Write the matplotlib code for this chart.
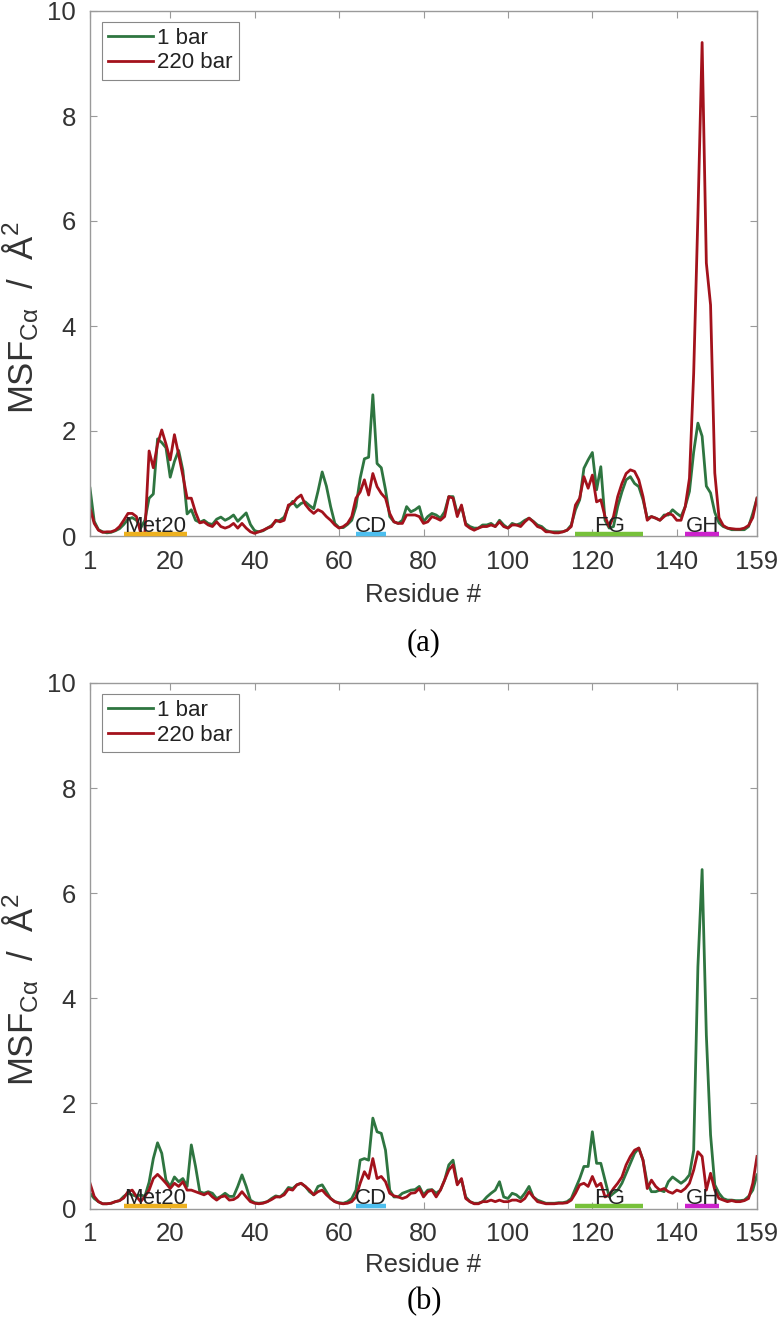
import numpy as np
import matplotlib
matplotlib.use("Agg")
import matplotlib.pyplot as plt

plt.rcParams['font.family'] = ['Liberation Sans', 'DejaVu Sans']
plt.rcParams['mathtext.fontset'] = 'custom'
plt.rcParams['mathtext.rm'] = 'Liberation Sans'
plt.rcParams['mathtext.it'] = 'Liberation Sans:italic'

residues = np.arange(1, 160)

msf_a_1bar = [
    0.91, 0.28, 0.12, 0.08, 0.06, 0.07, 0.10, 0.14, 0.22, 0.32,
    0.35, 0.30, 0.15, 0.30, 0.72, 0.80, 1.85, 1.78, 1.68, 1.12,
    1.42, 1.63, 1.25, 0.42, 0.50, 0.30, 0.26, 0.30, 0.24, 0.22,
    0.32, 0.36, 0.30, 0.34, 0.40, 0.28, 0.36, 0.44, 0.22, 0.10,
    0.08, 0.10, 0.15, 0.20, 0.28, 0.30, 0.36, 0.55, 0.66, 0.55,
    0.62, 0.65, 0.58, 0.52, 0.85, 1.22, 0.95, 0.56, 0.24, 0.16,
    0.16, 0.22, 0.30, 0.56, 1.10, 1.47, 1.50, 2.69, 1.38, 1.30,
    0.88, 0.37, 0.27, 0.24, 0.30, 0.56, 0.46, 0.50, 0.56, 0.27,
    0.37, 0.43, 0.40, 0.34, 0.46, 0.75, 0.75, 0.43, 0.56, 0.24,
    0.18, 0.15, 0.15, 0.21, 0.21, 0.24, 0.18, 0.30, 0.21, 0.15,
    0.24, 0.21, 0.24, 0.30, 0.34, 0.28, 0.21, 0.18, 0.11, 0.08,
    0.08, 0.08, 0.08, 0.11, 0.21, 0.50, 0.69, 1.29, 1.45, 1.59,
    0.88, 1.32, 0.30, 0.15, 0.18, 0.56, 0.84, 1.07, 1.13, 1.00,
    0.94, 0.69, 0.34, 0.37, 0.34, 0.30, 0.40, 0.40, 0.50, 0.43,
    0.37, 0.56, 0.85, 1.60, 2.15, 1.90, 0.95, 0.82, 0.45, 0.25,
    0.18, 0.15, 0.12, 0.12, 0.12, 0.12, 0.18, 0.43, 0.72]

msf_a_220bar = [
    0.53, 0.24, 0.11, 0.07, 0.08, 0.08, 0.11, 0.18, 0.30, 0.43,
    0.43, 0.37, 0.06, 0.05, 1.62, 1.30, 1.75, 2.02, 1.75, 1.45,
    1.93, 1.55, 1.15, 0.72, 0.72, 0.45, 0.25, 0.27, 0.21, 0.18,
    0.27, 0.18, 0.15, 0.18, 0.24, 0.15, 0.24, 0.15, 0.08, 0.05,
    0.08, 0.11, 0.15, 0.18, 0.30, 0.27, 0.30, 0.59, 0.62, 0.72,
    0.78, 0.60, 0.50, 0.43, 0.50, 0.46, 0.37, 0.30, 0.21, 0.15,
    0.18, 0.24, 0.37, 0.72, 0.84, 1.07, 0.78, 1.19, 0.94, 0.81,
    0.72, 0.43, 0.27, 0.24, 0.24, 0.40, 0.40, 0.40, 0.37, 0.24,
    0.27, 0.37, 0.34, 0.30, 0.37, 0.75, 0.72, 0.37, 0.59, 0.21,
    0.15, 0.11, 0.15, 0.18, 0.18, 0.21, 0.18, 0.27, 0.18, 0.15,
    0.21, 0.21, 0.18, 0.27, 0.34, 0.27, 0.18, 0.15, 0.08, 0.08,
    0.06, 0.06, 0.08, 0.11, 0.18, 0.59, 0.72, 1.13, 0.91, 1.16,
    0.65, 0.69, 0.37, 0.18, 0.37, 0.75, 1.00, 1.19, 1.26, 1.23,
    1.07, 0.75, 0.30, 0.37, 0.34, 0.30, 0.37, 0.43, 0.40, 0.30,
    0.30, 0.56, 1.10, 3.10, 6.10, 9.40, 5.20, 4.40, 1.20, 0.35,
    0.20, 0.15, 0.14, 0.13, 0.13, 0.15, 0.20, 0.35, 0.72]

msf_b_1bar = [
    0.29, 0.19, 0.13, 0.09, 0.09, 0.10, 0.13, 0.15, 0.23, 0.29,
    0.26, 0.23, 0.26, 0.23, 0.50, 0.95, 1.25, 1.05, 0.54, 0.42,
    0.60, 0.51, 0.57, 0.42, 1.21, 0.80, 0.32, 0.29, 0.32, 0.29,
    0.19, 0.23, 0.29, 0.23, 0.23, 0.42, 0.64, 0.42, 0.16, 0.11,
    0.10, 0.11, 0.13, 0.19, 0.24, 0.22, 0.29, 0.40, 0.38, 0.45,
    0.48, 0.42, 0.32, 0.26, 0.42, 0.45, 0.32, 0.19, 0.13, 0.11,
    0.10, 0.13, 0.19, 0.35, 0.92, 0.95, 0.92, 1.72, 1.46, 1.43,
    1.11, 0.35, 0.22, 0.22, 0.29, 0.32, 0.35, 0.36, 0.42, 0.26,
    0.35, 0.36, 0.29, 0.35, 0.54, 0.83, 0.92, 0.48, 0.54, 0.22,
    0.13, 0.10, 0.10, 0.13, 0.22, 0.29, 0.35, 0.51, 0.22, 0.19,
    0.29, 0.26, 0.19, 0.29, 0.42, 0.22, 0.16, 0.13, 0.10, 0.10,
    0.10, 0.11, 0.11, 0.13, 0.19, 0.38, 0.57, 0.80, 0.80, 1.46,
    0.86, 0.86, 0.54, 0.22, 0.29, 0.35, 0.48, 0.67, 0.86, 1.05,
    1.15, 0.92, 0.48, 0.32, 0.32, 0.35, 0.32, 0.51, 0.60, 0.54,
    0.48, 0.54, 0.64, 1.11, 4.60, 6.45, 3.30, 1.40, 0.45, 0.29,
    0.19, 0.16, 0.16, 0.15, 0.15, 0.16, 0.23, 0.35, 0.64]

msf_b_220bar = [
    0.48, 0.23, 0.13, 0.09, 0.09, 0.10, 0.13, 0.15, 0.20, 0.32,
    0.35, 0.23, 0.13, 0.23, 0.35, 0.57, 0.65, 0.57, 0.48, 0.38,
    0.48, 0.42, 0.51, 0.35, 0.35, 0.32, 0.29, 0.26, 0.30, 0.22,
    0.16, 0.22, 0.24, 0.16, 0.17, 0.22, 0.32, 0.22, 0.13, 0.10,
    0.09, 0.10, 0.13, 0.17, 0.22, 0.22, 0.26, 0.37, 0.35, 0.45,
    0.48, 0.42, 0.35, 0.26, 0.32, 0.35, 0.26, 0.19, 0.13, 0.10,
    0.09, 0.10, 0.13, 0.22, 0.48, 0.70, 0.57, 0.95, 0.57, 0.61,
    0.51, 0.29, 0.24, 0.22, 0.19, 0.22, 0.29, 0.30, 0.38, 0.22,
    0.32, 0.35, 0.22, 0.35, 0.54, 0.73, 0.83, 0.45, 0.57, 0.19,
    0.13, 0.09, 0.09, 0.13, 0.13, 0.16, 0.13, 0.16, 0.13, 0.13,
    0.16, 0.16, 0.13, 0.19, 0.32, 0.22, 0.13, 0.11, 0.09, 0.09,
    0.09, 0.10, 0.10, 0.11, 0.16, 0.29, 0.45, 0.48, 0.42, 0.61,
    0.42, 0.48, 0.22, 0.26, 0.38, 0.48, 0.60, 0.83, 0.99, 1.11,
    1.15, 0.92, 0.38, 0.54, 0.42, 0.35, 0.38, 0.32, 0.29, 0.35,
    0.32, 0.38, 0.48, 0.73, 1.08, 0.99, 0.35, 0.67, 0.35, 0.19,
    0.16, 0.13, 0.15, 0.13, 0.13, 0.15, 0.19, 0.48, 0.99]

region_names = ['Met20', 'CD', 'FG', 'GH']
region_start = [9, 64, 116, 142]
region_end = [24, 71, 132, 150]
region_colors = ['#EDB120', '#4DBEEE', '#77C13A', '#CC22CC']

series_labels = ['1 bar', '220 bar']
series_colors = ['#2E7540', '#A3121C']
xticks = [1, 20, 40, 60, 80, 100, 120, 140, 159]
yticks = [0, 2, 4, 6, 8, 10]

W, H = 778, 1319
fig = plt.figure(figsize=(W / 100, H / 100), dpi=100)

axl, axr = 90, 757
panels = [
    (11, 536, msf_a_1bar, msf_a_220bar, '(a)', 595, 643, 318),
    (683, 1208.5, msf_b_1bar, msf_b_220bar, '(b)', 1265, 1302, 990),
]

tick_col = '#333333'
spine_col = '#9a9a9a'

for top, bot, g, r, cap, xl_y, cap_y, yl_y in panels:
    ax = fig.add_axes([axl / W, 1 - bot / H, (axr - axl) / W, (bot - top) / H])
    ax.plot(residues, g, color=series_colors[0], lw=2.0, label=series_labels[0])
    ax.plot(residues, r, color=series_colors[1], lw=2.0, label=series_labels[1])
    ax.set_xlim(1, 159)
    ax.set_ylim(0, 10)
    ax.set_xticks(xticks)
    ax.set_yticks(yticks)
    ax.tick_params(direction='in', length=5, width=0.8, color=spine_col,
                   top=True, right=True, labelsize=18.5, labelcolor=tick_col, pad=10)
    for s in ax.spines.values():
        s.set_color(spine_col)
        s.set_linewidth(1.0)
    for name, s0, s1, c in zip(region_names, region_start, region_end, region_colors):
        ax.plot([s0, s1], [0.04, 0.04], color=c, lw=3.2, solid_capstyle='butt',
                clip_on=False, zorder=5)
        ax.text((s0 + s1) / 2, 0.08, name, ha='center', va='baseline',
                fontsize=16, color='#222222', zorder=6)
    leg = ax.legend(loc='upper left', bbox_to_anchor=(0.0175, 0.98), borderaxespad=0,
                    fontsize=16, handlelength=2.0, handletextpad=0.2,
                    labelspacing=0.15, borderpad=0.3, fancybox=False, framealpha=1)
    leg.get_frame().set_edgecolor('#888888')
    leg.get_frame().set_linewidth(0.8)
    for t in leg.get_texts():
        t.set_color('#222222')
    fig.text(((axl + axr) / 2) / W, 1 - xl_y / H, 'Residue #', ha='center', va='center',
             fontsize=18.5, color=tick_col)
    fig.text(21 / W, 1 - yl_y / H, r'MSF$_{\mathrm{C\alpha}}$  /  Å$^{2}$', rotation=90,
             ha='center', va='center', fontsize=25, color=tick_col)
    fig.text(424 / W, 1 - cap_y / H, cap, ha='center', va='center', fontsize=22,
             family='Liberation Serif', color='black')

fig.savefig('out.png', dpi=100)
